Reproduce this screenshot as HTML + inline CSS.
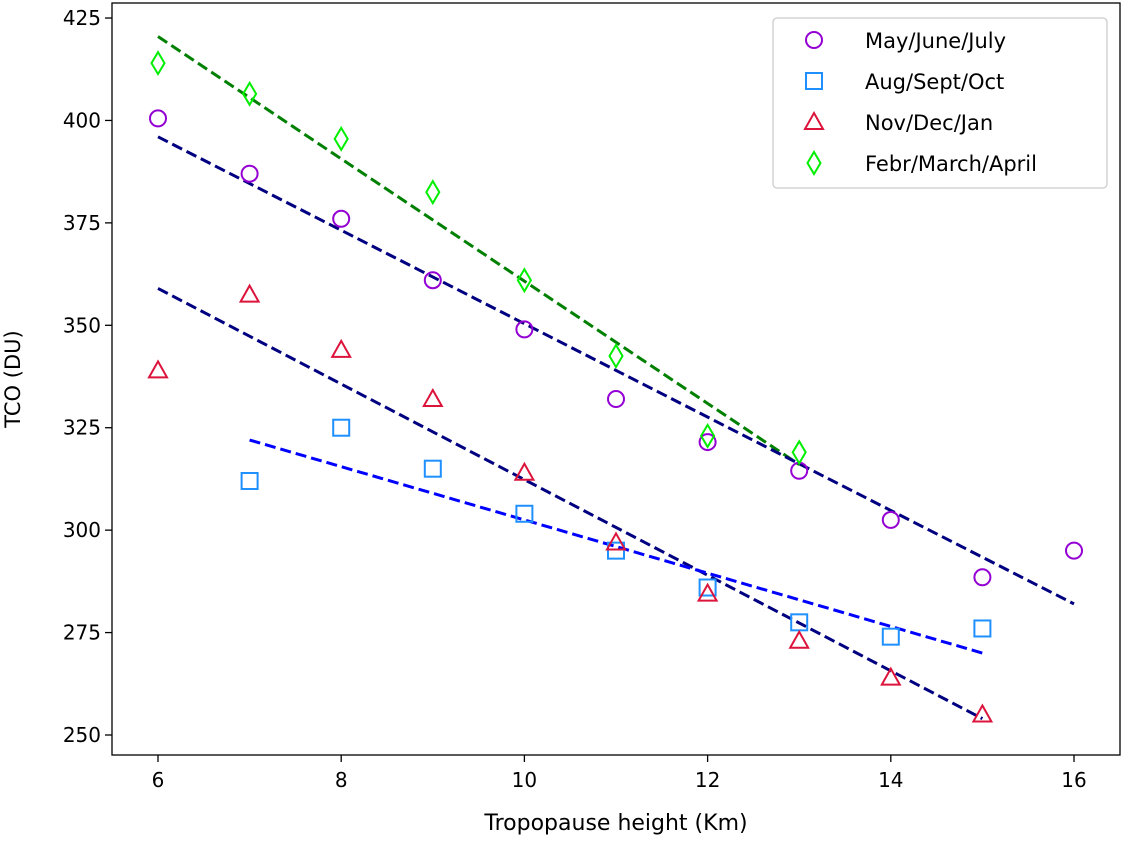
<!DOCTYPE html>
<html><head><meta charset="utf-8"><style>
html,body{margin:0;padding:0;background:#fff;}
svg text{font-family:"DejaVu Sans","Liberation Sans",sans-serif;fill:#000;}
</style></head><body>
<svg id="chart" width="1123" height="838" viewBox="0 0 1123 838" xmlns="http://www.w3.org/2000/svg">
<g id="plot"></g>
</svg>
<script>
const xTicks=[6,8,10,12,14,16];
const yTicks=[250,275,300,325,350,375,400,425];
const xMay=[6,7,8,9,10,11,12,13,14,15,16];
const yMay=[400.5,387,376,361,349,332,321.5,314.5,302.5,288.5,295];
const xAug=[7,8,9,10,11,12,13,14,15];
const yAug=[312,325,315,304,295,286,277.5,274,276];
const xNov=[6,7,8,9,10,11,12,13,14,15];
const yNov=[339,357.5,344,332,314,297,284.5,273,264,255];
const xFeb=[6,7,8,9,10,11,12,13];
const yFeb=[414,406.5,395.5,382.5,361,342.5,323,319];
const fitGreenX=[6,13], fitGreenY=[420.5,316];
const fitMayX=[6,16], fitMayY=[396,282];
const fitNovX=[6,15], fitNovY=[359,254];
const fitAugX=[7,15], fitAugY=[322,270];

const NS="http://www.w3.org/2000/svg";
const svg=document.getElementById('chart');
const g=document.getElementById('plot');
const L=112,R=1120,T=3,B=755;
const sx=v=>158+(v-6)*91.6;
const sy=v=>735-(v-250)*4.097;
function mk(tag,attrs,parent){const e=document.createElementNS(NS,tag);for(const k in attrs)e.setAttribute(k,attrs[k]);(parent||g).appendChild(e);return e;}

const frame=mk('rect',{x:L,y:T,width:R-L,height:B-T,fill:'none',stroke:'#000','stroke-width':1.3});



xTicks.forEach(v=>{
  const t=mk('line',{x1:sx(v),x2:sx(v),y1:B,y2:B+7,stroke:'#000','stroke-width':1.3});
  
  
  const l=mk('text',{x:sx(v),y:B+32,'text-anchor':'middle','font-size':20});
  l.textContent=v;
  
  
});
yTicks.forEach(v=>{
  const t=mk('line',{x1:L-7,x2:L,y1:sy(v),y2:sy(v),stroke:'#000','stroke-width':1.3});
  
  
  const l=mk('text',{x:L-11,y:sy(v)+7,'text-anchor':'end','font-size':20});
  l.textContent=v;
  
  
});
const xt=mk('text',{x:616,y:830,'text-anchor':'middle','font-size':22});
xt.textContent='Tropopause height (Km)';


const yt=mk('text',{x:20,y:379,'text-anchor':'middle','font-size':21,transform:'rotate(-90 20 379)'});
yt.textContent='TCO (DU)';



function fit(xs,ys,color,name){
  const l=mk('line',{x1:sx(xs[0]),y1:sy(ys[0]),x2:sx(xs[1]),y2:sy(ys[1]),stroke:color,'stroke-width':3,'stroke-dasharray':'11,5'});
  
  
}
fit(fitGreenX,fitGreenY,'#008000','fit-line-febr');
fit(fitMayX,fitMayY,'#000080','fit-line-may');
fit(fitNovX,fitNovY,'#000080','fit-line-nov');
fit(fitAugX,fitAugY,'#0000ff','fit-line-aug');

function marker(type,cx,cy,color,parent){
  let e;
  if(type==='circle') e=mk('circle',{cx:cx,cy:cy,r:8,fill:'none',stroke:color,'stroke-width':2},parent);
  else if(type==='square') e=mk('rect',{x:cx-8,y:cy-8,width:16,height:16,fill:'none',stroke:color,'stroke-width':2},parent);
  else if(type==='tri') e=mk('polygon',{points:`${cx},${cy-9} ${cx+9},${cy+7} ${cx-9},${cy+7}`,fill:'none',stroke:color,'stroke-width':2},parent);
  else e=mk('polygon',{points:`${cx},${cy-11} ${cx+6.5},${cy} ${cx},${cy+11} ${cx-6.5},${cy}`,fill:'none',stroke:color,'stroke-width':2},parent);
  return e;
}
function series(xs,ys,type,color,name){
  xs.forEach((x,i)=>{
    const e=marker(type,sx(x),sy(ys[i]),color);
    
    
  });
}
series(xMay,yMay,'circle','#9400d3','point-may-june-july');
series(xAug,yAug,'square','#1e90ff','point-aug-sept-oct');
series(xNov,yNov,'tri','#dc143c','point-nov-dec-jan');
series(xFeb,yFeb,'diamond','#00ee00','point-febr-march-april');

const lg=mk('g',{});


mk('rect',{x:773,y:18,width:334,height:170,rx:4,fill:'#fff',stroke:'#ccc','stroke-width':1.3},lg);
const entries=[['circle','#9400d3','May/June/July'],['square','#1e90ff','Aug/Sept/Oct'],['tri','#dc143c','Nov/Dec/Jan'],['diamond','#00ee00','Febr/March/April']];
entries.forEach((en,i)=>{
  const cy=40+i*41;
  const m=marker(en[0],814,cy,en[1],lg);
  
  
  const t=mk('text',{x:865,y:cy+8,'font-size':21},lg);
  t.textContent=en[2];
  
  
});
</script>
</body></html>
